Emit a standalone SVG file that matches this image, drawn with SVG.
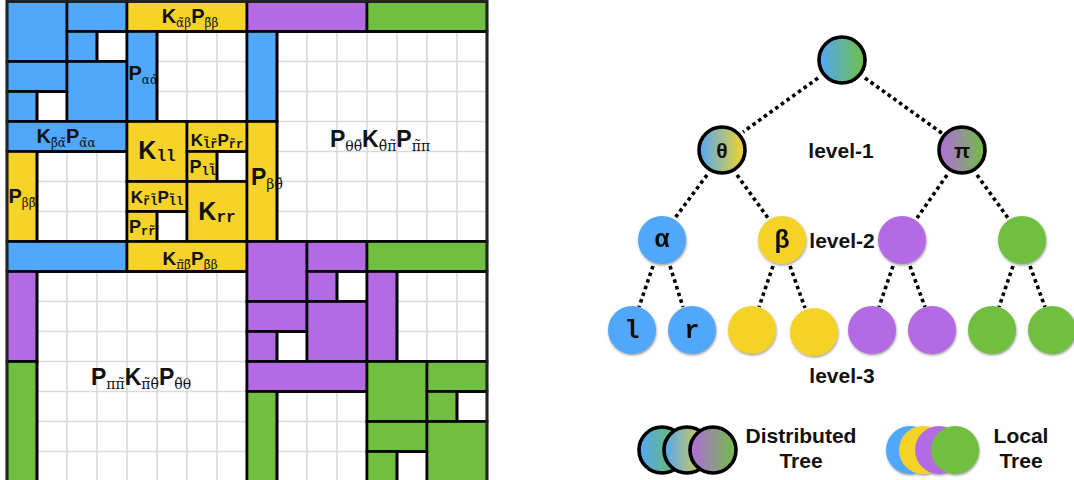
<svg xmlns="http://www.w3.org/2000/svg" width="1074" height="480" viewBox="0 0 1074 480">
  <style>
    .blk { stroke: #000; stroke-width: 2.6; }
    .b { fill: #51A7F9; }
    .y { fill: #F5D328; }
    .p { fill: #B36AE2; }
    .g { fill: #70BF41; }
    .w { fill: none; }
    .lbl { font-family: "Liberation Sans", Arial, sans-serif; font-weight: bold; fill: #111; }
    .gs { font-family: "DejaVu Serif", "Liberation Serif", serif; font-weight: normal; }
    .ms { font-family: "Liberation Mono", "Courier New", monospace; font-weight: bold; }
    .lvl { font-family: "Liberation Sans", Arial, sans-serif; font-weight: bold; font-size: 21px; fill: #111; text-anchor: middle; }
    .dot { stroke: #000; stroke-width: 3.6; stroke-dasharray: 3.6 3.4; fill: none; }
    .ring { stroke: #000; stroke-width: 3.6; }
    .nt { font-family: "Liberation Sans", Arial, sans-serif; font-weight: bold; font-size: 21px; fill: #111; text-anchor: middle; }
    .nm { font-family: "Liberation Mono", "Courier New", monospace; font-weight: bold; font-size: 25px; fill: #111; text-anchor: middle; }
  </style>
  <defs>
    <linearGradient id="gBG" x1="0" y1="0" x2="1" y2="0">
      <stop offset="0" stop-color="#51A7F9"/>
      <stop offset="1" stop-color="#70BF41"/>
    </linearGradient>
    <linearGradient id="gBY" x1="0" y1="0" x2="1" y2="0">
      <stop offset="0" stop-color="#51A7F9"/>
      <stop offset="1" stop-color="#F5D328"/>
    </linearGradient>
    <linearGradient id="gPG" x1="0" y1="0" x2="1" y2="0">
      <stop offset="0" stop-color="#B36AE2"/>
      <stop offset="1" stop-color="#70BF41"/>
    </linearGradient>
    <filter id="sh" x="-20%" y="-20%" width="150%" height="150%">
      <feDropShadow dx="0.6" dy="1.4" stdDeviation="1" flood-color="#555" flood-opacity="0.6"/>
    </filter>
  </defs>

  <rect width="1074" height="480" fill="#fff"/>

  <!-- hierarchical matrix -->
  <g id="matrix">
    <rect x="7" y="1.5" width="480" height="480" fill="#fff"/>
    <path d="M37 1.5V481.5M67 1.5V481.5M97 1.5V481.5M127 1.5V481.5M157 1.5V481.5M187 1.5V481.5M217 1.5V481.5M247 1.5V481.5M277 1.5V481.5M307 1.5V481.5M337 1.5V481.5M367 1.5V481.5M397 1.5V481.5M427 1.5V481.5M457 1.5V481.5M7 31.5H487M7 61.5H487M7 91.5H487M7 121.5H487M7 151.5H487M7 181.5H487M7 211.5H487M7 241.5H487M7 271.5H487M7 301.5H487M7 331.5H487M7 361.5H487M7 391.5H487M7 421.5H487M7 451.5H487" stroke="#dadada" stroke-width="1.6" fill="none"/>

    <!-- alpha diagonal block -->
    <rect class="blk b" x="7" y="1.5" width="60" height="60"/>
    <rect class="blk b" x="67" y="1.5" width="60" height="30"/>
    <rect class="blk b" x="67" y="31.5" width="30" height="30"/>
    <rect class="blk w" x="97" y="31.5" width="30" height="30"/>
    <rect class="blk b" x="7" y="61.5" width="60" height="30"/>
    <rect class="blk b" x="7" y="91.5" width="30" height="30"/>
    <rect class="blk w" x="37" y="91.5" width="30" height="30"/>
    <rect class="blk b" x="67" y="61.5" width="60" height="60"/>

    <!-- theta off-diagonal couplings -->
    <rect class="blk y" x="127" y="1.5" width="120" height="30"/>
    <rect class="blk b" x="127" y="31.5" width="30" height="90"/>
    <rect class="blk w" x="157" y="31.5" width="90" height="90"/>
    <rect class="blk b" x="7" y="121.5" width="120" height="30"/>
    <rect class="blk y" x="7" y="151.5" width="30" height="90"/>
    <rect class="blk w" x="37" y="151.5" width="90" height="90"/>

    <!-- beta diagonal block -->
    <rect class="blk y" x="127" y="121.5" width="60" height="60"/>
    <rect class="blk y" x="187" y="121.5" width="60" height="30"/>
    <rect class="blk y" x="187" y="151.5" width="30" height="30"/>
    <rect class="blk w" x="217" y="151.5" width="30" height="30"/>
    <rect class="blk y" x="127" y="181.5" width="60" height="30"/>
    <rect class="blk y" x="127" y="211.5" width="30" height="30"/>
    <rect class="blk w" x="157" y="211.5" width="30" height="30"/>
    <rect class="blk y" x="187" y="181.5" width="60" height="60"/>

    <!-- upper-right coupling -->
    <rect class="blk p" x="247" y="1.5" width="120" height="30"/>
    <rect class="blk g" x="367" y="1.5" width="120" height="30"/>
    <rect class="blk b" x="247" y="31.5" width="30" height="90"/>
    <rect class="blk y" x="247" y="121.5" width="30" height="120"/>
    <rect class="blk w" x="277" y="31.5" width="210" height="210"/>

    <!-- lower-left coupling -->
    <rect class="blk b" x="7" y="241.5" width="120" height="30"/>
    <rect class="blk y" x="127" y="241.5" width="120" height="30"/>
    <rect class="blk p" x="7" y="271.5" width="30" height="90"/>
    <rect class="blk g" x="7" y="361.5" width="30" height="120"/>
    <rect class="blk w" x="37" y="271.5" width="210" height="210"/>

    <!-- purple diagonal block -->
    <rect class="blk p" x="247" y="241.5" width="60" height="60"/>
    <rect class="blk p" x="307" y="241.5" width="60" height="30"/>
    <rect class="blk p" x="307" y="271.5" width="30" height="30"/>
    <rect class="blk w" x="337" y="271.5" width="30" height="30"/>
    <rect class="blk p" x="247" y="301.5" width="60" height="30"/>
    <rect class="blk p" x="247" y="331.5" width="30" height="30"/>
    <rect class="blk w" x="277" y="331.5" width="30" height="30"/>
    <rect class="blk p" x="307" y="301.5" width="60" height="60"/>

    <!-- pi off-diagonal couplings -->
    <rect class="blk g" x="367" y="241.5" width="120" height="30"/>
    <rect class="blk p" x="367" y="271.5" width="30" height="90"/>
    <rect class="blk w" x="397" y="271.5" width="90" height="90"/>
    <rect class="blk p" x="247" y="361.5" width="120" height="30"/>
    <rect class="blk g" x="247" y="391.5" width="30" height="90"/>
    <rect class="blk w" x="277" y="391.5" width="90" height="90"/>

    <!-- green diagonal block -->
    <rect class="blk g" x="367" y="361.5" width="60" height="60"/>
    <rect class="blk g" x="427" y="361.5" width="60" height="30"/>
    <rect class="blk g" x="427" y="391.5" width="30" height="30"/>
    <rect class="blk w" x="457" y="391.5" width="30" height="30"/>
    <rect class="blk g" x="367" y="421.5" width="60" height="30"/>
    <rect class="blk g" x="367" y="451.5" width="30" height="30"/>
    <rect class="blk w" x="397" y="451.5" width="30" height="30"/>
    <rect class="blk g" x="427" y="421.5" width="60" height="60"/>

    <rect x="7" y="1.5" width="480" height="480" fill="none" stroke="#222" stroke-width="2.6"/>

    <!-- block labels -->
    <text class="lbl" x="190" y="23" font-size="20" text-anchor="middle">K<tspan class="gs" font-size="12" dy="4">α̃β</tspan><tspan dy="-4">P</tspan><tspan class="gs" font-size="12" dy="4">β̃β</tspan></text>
    <text class="lbl" x="128.5" y="80" font-size="20">P<tspan class="gs" font-size="12" dy="4">αα̃</tspan></text>
    <text class="lbl" x="66" y="143" font-size="20" text-anchor="middle">K<tspan class="gs" font-size="12" dy="4">β̃α̃</tspan><tspan dy="-4">P</tspan><tspan class="gs" font-size="12" dy="4">α̃α</tspan></text>
    <text class="lbl" x="8.5" y="203" font-size="20">P<tspan class="gs" font-size="12" dy="4">ββ̃</tspan></text>

    <text class="lbl" x="157" y="159" font-size="25" text-anchor="middle">K<tspan class="ms" font-size="16" dy="2">ll</tspan></text>
    <text class="lbl" x="217" y="146" font-size="17" text-anchor="middle">K<tspan class="ms" font-size="12" dy="2">l̃r̃</tspan><tspan dy="-2">P</tspan><tspan class="ms" font-size="12" dy="2">r̃r</tspan></text>
    <text class="lbl" x="189.5" y="173" font-size="18">P<tspan class="ms" font-size="12" dy="2">ll̃</tspan></text>
    <text class="lbl" x="157" y="203" font-size="17" text-anchor="middle">K<tspan class="ms" font-size="12" dy="2">r̃l̃</tspan><tspan dy="-2">P</tspan><tspan class="ms" font-size="12" dy="2">l̃l</tspan></text>
    <text class="lbl" x="129" y="233" font-size="18">P<tspan class="ms" font-size="12" dy="2">rr̃</tspan></text>
    <text class="lbl" x="217" y="220" font-size="25" text-anchor="middle">K<tspan class="ms" font-size="16" dy="2">rr</tspan></text>

    <text class="lbl" x="251" y="185" font-size="23">P<tspan class="gs" font-size="14" dy="4">βθ̃</tspan></text>
    <text class="lbl" x="380" y="147" font-size="23" text-anchor="middle">P<tspan class="gs" font-size="14" dy="4">θθ̃</tspan><tspan dy="-4">K</tspan><tspan class="gs" font-size="14" dy="4">θ̃π̃</tspan><tspan dy="-4">P</tspan><tspan class="gs" font-size="14" dy="4">π̃π</tspan></text>
    <text class="lbl" x="190" y="265" font-size="19" text-anchor="middle">K<tspan class="gs" font-size="12" dy="4">π̃β̃</tspan><tspan dy="-4">P</tspan><tspan class="gs" font-size="12" dy="4">β̃β</tspan></text>
    <text class="lbl" x="141" y="385" font-size="23" text-anchor="middle">P<tspan class="gs" font-size="14" dy="4">ππ̃</tspan><tspan dy="-4">K</tspan><tspan class="gs" font-size="14" dy="4">π̃θ̃</tspan><tspan dy="-4">P</tspan><tspan class="gs" font-size="14" dy="4">θ̃θ</tspan></text>
  </g>

  <!-- tree edges -->
  <g id="edges">
    <line class="dot" x1="818" y1="78" x2="743" y2="132"/>
    <line class="dot" x1="865" y1="78" x2="943" y2="134"/>
    <line class="dot" x1="707" y1="175" x2="675" y2="218"/>
    <line class="dot" x1="737" y1="175" x2="768" y2="218"/>
    <line class="dot" x1="947" y1="175" x2="917" y2="218"/>
    <line class="dot" x1="977" y1="175" x2="1008" y2="218"/>
    <line class="dot" x1="653" y1="266" x2="639" y2="307"/>
    <line class="dot" x1="670" y1="266" x2="683" y2="307"/>
    <line class="dot" x1="773" y1="266" x2="759" y2="307"/>
    <line class="dot" x1="790" y1="266" x2="805" y2="308"/>
    <line class="dot" x1="893" y1="266" x2="879" y2="307"/>
    <line class="dot" x1="910" y1="266" x2="925" y2="307"/>
    <line class="dot" x1="1013" y1="266" x2="999" y2="307"/>
    <line class="dot" x1="1030" y1="266" x2="1045" y2="307"/>
  </g>

  <!-- distributed tree nodes -->
  <g id="root"><circle class="ring" cx="842" cy="60" r="23" fill="url(#gBG)"/></g>
  <g id="theta"><circle class="ring" cx="722" cy="150" r="23" fill="url(#gBY)"/><text class="nt" x="722" y="158">θ</text></g>
  <g id="pi"><circle class="ring" cx="962" cy="150" r="23" fill="url(#gPG)"/><text class="nt" x="962" y="158">π</text></g>

  <!-- local tree nodes -->
  <g id="alpha" filter="url(#sh)"><circle class="b" cx="662" cy="240" r="24"/><text class="nm" x="662" y="247">α</text></g>
  <g id="beta" filter="url(#sh)"><circle class="y" cx="782" cy="240" r="24"/><text class="nm" x="782" y="248">β</text></g>
  <g id="pi-a" filter="url(#sh)"><circle class="p" cx="902" cy="240" r="24"/></g>
  <g id="pi-b" filter="url(#sh)"><circle class="g" cx="1022" cy="240" r="24"/></g>

  <g id="leaf-l" filter="url(#sh)"><circle class="b" cx="632" cy="330" r="24"/><text class="nm" x="632" y="338">l</text></g>
  <g id="leaf-r" filter="url(#sh)"><circle class="b" cx="692" cy="330" r="24"/><text class="nm" x="692" y="338">r</text></g>
  <g id="leaf-b1" filter="url(#sh)"><circle class="y" cx="752" cy="330" r="24"/></g>
  <g id="leaf-b2" filter="url(#sh)"><circle class="y" cx="814" cy="332" r="24"/></g>
  <g id="leaf-p1" filter="url(#sh)"><circle class="p" cx="872" cy="330" r="24"/></g>
  <g id="leaf-p2" filter="url(#sh)"><circle class="p" cx="932" cy="330" r="24"/></g>
  <g id="leaf-g1" filter="url(#sh)"><circle class="g" cx="992" cy="330" r="24"/></g>
  <g id="leaf-g2" filter="url(#sh)"><circle class="g" cx="1052" cy="330" r="24"/></g>

  <!-- level captions -->
  <g id="levels">
    <text class="lvl" x="841" y="158">level-1</text>
    <text class="lvl" x="842" y="248">level-2</text>
    <text class="lvl" x="842" y="383">level-3</text>
  </g>

  <!-- legend -->
  <g id="legend-distributed">
    <circle class="ring" cx="662" cy="450" r="23" fill="url(#gBG)"/>
    <circle class="ring" cx="687" cy="450" r="23" fill="url(#gBY)"/>
    <circle class="ring" cx="713" cy="450" r="23" fill="url(#gPG)"/>
    <text class="lvl" x="801" y="443">Distributed</text>
    <text class="lvl" x="801" y="468">Tree</text>
  </g>
  <g id="legend-local">
    <g filter="url(#sh)">
      <circle class="b" cx="910" cy="450" r="24"/>
      <circle class="y" cx="923" cy="450" r="24"/>
      <circle class="p" cx="939" cy="450" r="24"/>
      <circle class="g" cx="955" cy="450" r="24"/>
    </g>
    <text class="lvl" x="1021" y="443">Local</text>
    <text class="lvl" x="1021" y="468">Tree</text>
  </g>
</svg>
